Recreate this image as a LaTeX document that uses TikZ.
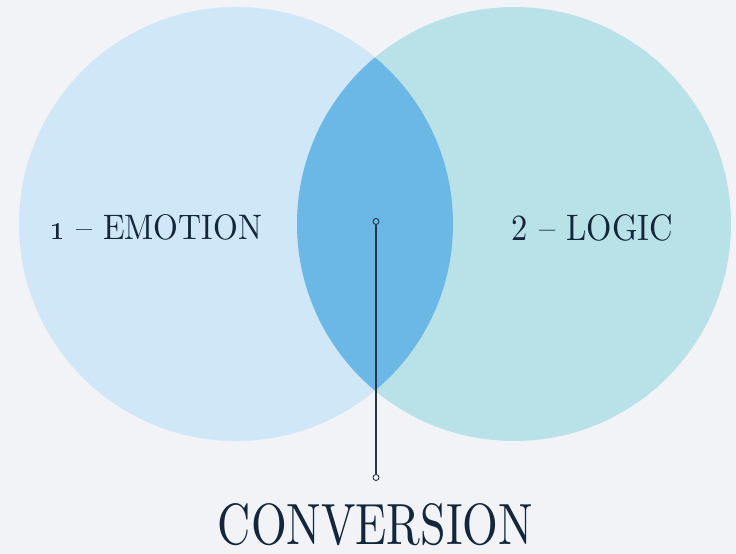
\documentclass[tikz,border=0pt]{standalone}
\usepackage{graphicx}
\definecolor{bgcol}{HTML}{F1F3F6}
\definecolor{emocol}{HTML}{D0E7F8}
\definecolor{logcol}{HTML}{B9E2E8}
\definecolor{lenscol}{HTML}{6BB8E6}
\definecolor{inkcol}{HTML}{13263A}
\definecolor{wirecol}{HTML}{2A3340}
\begin{document}
\begin{tikzpicture}[x=1pt,y=-1pt,
  label text/.style={inner sep=0pt,anchor=base,text=inkcol},
  pin dot/.style={circle,draw=wirecol,line width=0.9pt,minimum size=6pt,inner sep=0pt},
  wire/.style={draw=wirecol,line width=1.1pt}]
  % canvas
  \fill[bgcol] (0,0) rectangle (736,554);
  \useasboundingbox (0,0) rectangle (736,554);
  % the two sets
  \fill[emocol] (236,224) circle[radius=217];
  \fill[logcol] (514,224) circle[radius=217];
  % their overlap
  \begin{scope}
    \clip (236,224) circle[radius=217];
    \fill[lenscol] (514,224) circle[radius=217];
  \end{scope}
  % labels
  \node[label text] (emo) at (156,239) {\resizebox{212pt}{25pt}{\oldstylenums{1} -- EMOTION}};
  \node[label text] (log) at (592.5,240) {\resizebox{161pt}{26pt}{2 -- LOGIC}};
  \node[label text] (conv) at (375.5,544) {\resizebox{315pt}{41pt}{CONVERSION}};
  % pointer from the overlap down to its caption
  \node[pin dot,fill=lenscol] (top) at (376,221.5) {};
  \node[pin dot,fill=bgcol] (bot) at (376,477.5) {};
  \draw[wire] (top) -- (bot);
\end{tikzpicture}
\end{document}
